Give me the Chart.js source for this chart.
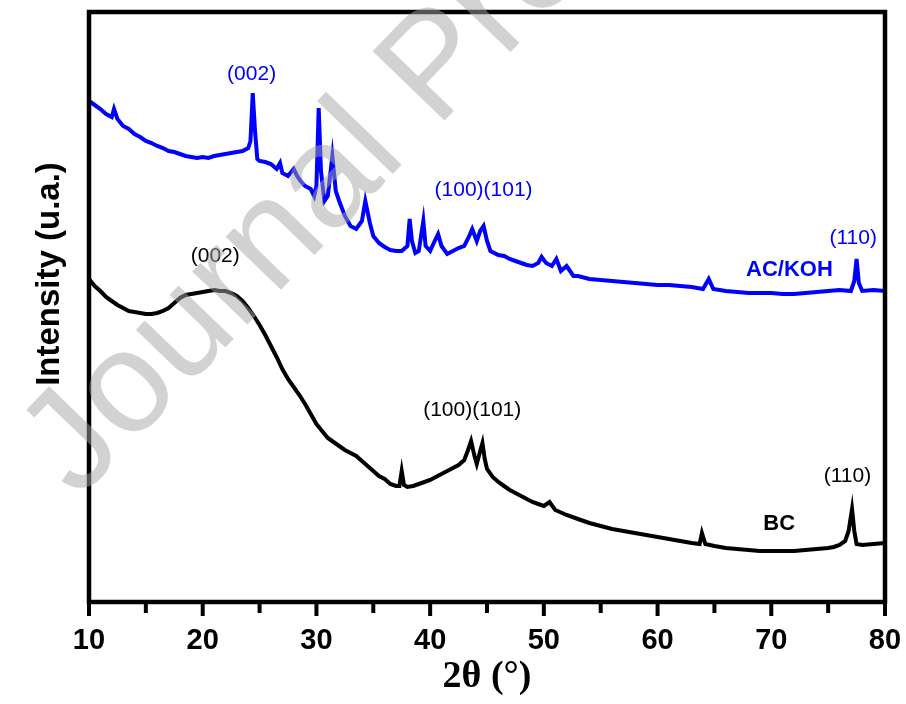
<!DOCTYPE html>
<html>
<head>
<meta charset="utf-8">
<script src="https://cdn.jsdelivr.net/npm/chart.js@4.4.0/dist/chart.umd.min.js"></script>
<style>
  html, body { margin: 0; padding: 0; background: #fff; }
</style>
</head>
<body>
<canvas id="xrd" width="906" height="704"></canvas>
<script>
// 2theta (deg) and intensity (a.u.)
const acKohTheta = [10.0,10.5,11.0,11.5,12.0,12.2,12.5,13.0,13.5,14.0,14.5,15.0,15.5,16.0,16.5,17.0,17.5,18.0,18.5,19.0,19.5,20.0,20.5,21.0,21.5,22.0,22.5,23.0,23.5,24.0,24.2,24.4,24.6,24.8,25.0,25.5,26.0,26.5,26.8,27.0,27.5,28.0,28.3,28.6,29.0,29.5,29.8,30.0,30.2,30.4,30.7,31.0,31.4,31.7,32.0,32.5,33.0,33.5,34.0,34.3,34.7,35.0,35.5,36.0,36.5,37.0,37.5,38.0,38.2,38.4,38.7,39.0,39.4,39.6,40.0,40.4,40.7,41.0,41.5,42.0,42.5,43.0,43.4,43.7,44.1,44.4,44.7,45.0,45.3,46.0,46.5,47.0,47.5,48.0,48.5,49.0,49.5,49.8,50.2,50.7,51.1,51.5,52.0,52.6,53.0,54.0,55.0,56.0,57.0,58.0,59.0,60.0,61.0,62.0,63.0,64.0,64.5,64.9,66.0,67.0,68.0,69.0,70.0,71.0,72.0,73.0,74.0,75.0,76.0,77.0,77.3,77.5,77.7,78.0,79.0,80.0];
const acKohInt = [501,497,493,488,485,493,483,476,473,468,465,461,459,456,454,451,450,448,446,445,444,445,444,446,447,448,449,450,451,454,461,509,471,443,441,440,438,433,439,429,426,433,426,421,416,413,406,416,494,431,401,406,446,411,401,386,376,373,381,401,379,366,359,355,352,351,351,356,383,361,349,351,381,356,351,361,368,356,348,351,354,356,365,373,361,371,376,361,351,347,346,343,341,339,337,336,339,345,339,336,343,331,336,326,326,323,322,321,320,319,318,317,317,316,315,313,323,313,311,310,309,309,309,308,308,309,310,311,312,311,321,343,319,311,312,311];

const bcTheta = [10.0,10.5,11.0,11.5,12.0,12.5,13.0,13.5,14.0,14.5,15.0,15.5,16.0,16.5,17.0,17.5,18.0,18.5,19.0,19.5,20.0,20.5,21.0,21.5,22.0,22.5,23.0,23.5,24.0,24.5,25.0,25.5,26.0,26.5,27.0,27.5,28.0,28.5,29.0,29.5,30.0,30.5,31.0,31.5,32.0,32.5,33.0,33.5,34.0,34.5,35.0,35.5,36.0,36.5,37.0,37.3,37.5,37.7,38.0,38.5,39.0,39.5,40.0,40.5,41.0,41.5,42.0,42.5,43.0,43.3,43.6,43.9,44.1,44.4,44.6,44.8,45.0,45.5,46.0,46.5,47.0,47.5,48.0,48.5,49.0,49.5,50.0,50.5,51.0,52.0,53.0,54.0,55.0,56.0,57.0,58.0,59.0,60.0,61.0,62.0,63.0,63.7,63.9,64.2,65.0,66.0,67.0,68.0,69.0,70.0,71.0,72.0,73.0,74.0,75.0,75.5,76.0,76.5,76.8,77.1,77.3,77.5,78.0,79.0,80.0];
const bcInt = [323,316,311,305,301,297,294,291,290,289,288,288,289,291,294,299,304,307,308,309,310,311,312,311,311,309,306,301,294,286,277,267,256,245,233,223,215,207,198,188,178,171,164,160,156,152,149,146,141,136,131,126,123,118,116,116,131,117,115,116,118,120,122,125,128,131,134,137,142,151,161,146,138,151,159,143,133,125,120,116,112,109,106,103,100,98,96,100,92,87,83,79,76,73,71,69,67,65,63,61,59,58,69,58,56,54,53,52,51,51,51,51,52,53,54,55,57,61,71,93,71,58,57,58,59];

const xTicks = [10, 20, 30, 40, 50, 60, 70, 80];

// peak labels: text, 2theta, intensity level
const peakText  = ['(002)', '(100)(101)', '(110)', 'AC/KOH', '(002)', '(100)(101)', '(110)', 'BC'];
const peakTheta = [24.3, 44.7, 77.2, 71.6, 21.1, 43.7, 76.7, 70.7];
const peakLevel = [528, 412, 364, 332, 346, 192, 126, 78];
const peakColor = ['#0000ff', '#0000ff', '#0000ff', '#0000ff', '#000000', '#000000', '#000000', '#000000'];
const peakBold  = [false, false, false, true, false, false, false, true];

function toPoints(xs, ys) {
    return xs.map((x, i) => ({ x: x, y: ys[i] }))
}

const framePlugin = {
    id: 'frame',
    afterDatasetsDraw(chart) {
        const ctx = chart.ctx
        const a = chart.chartArea
        const xs = chart.scales.x
        ctx.save()
        ctx.strokeStyle = '#000'
        ctx.lineWidth = 4.5
        ctx.strokeRect(a.left, a.top, a.right - a.left, a.bottom - a.top)
        ctx.lineWidth = 4
        for (let v = 10; v <= 80; v += 5) {
            const px = xs.getPixelForValue(v)
            const len = v % 10 === 0 ? 14 : 11
            ctx.beginPath()
            ctx.moveTo(px, a.bottom)
            ctx.lineTo(px, a.bottom + len)
            ctx.stroke()
        }
        ctx.restore()
    }
}

const labelPlugin = {
    id: 'peakLabels',
    afterDatasetsDraw(chart) {
        const ctx = chart.ctx
        const xs = chart.scales.x
        const ys = chart.scales.y
        ctx.save()
        ctx.textAlign = 'center'
        ctx.textBaseline = 'middle'
        for (let i = 0; i < peakText.length; i++) {
            ctx.fillStyle = peakColor[i]
            ctx.font = peakBold[i] ? 'bold 22px "Liberation Sans", Arial, sans-serif' : '21px "Liberation Sans", Arial, sans-serif'
            ctx.fillText(peakText[i], xs.getPixelForValue(peakTheta[i]), ys.getPixelForValue(peakLevel[i]))
        }
        ctx.restore()
    }
}

const yTitlePlugin = {
    id: 'yTitle',
    afterDraw(chart) {
        const ctx = chart.ctx
        ctx.save()
        ctx.translate(50, 274)
        ctx.rotate(-Math.PI / 2)
        ctx.fillStyle = '#000'
        ctx.font = 'bold 33px "Liberation Sans", Arial, sans-serif'
        ctx.textAlign = 'center'
        ctx.textBaseline = 'middle'
        ctx.fillText('Intensity (u.a.)', 0, 0)
        ctx.restore()
    }
}

const watermarkPlugin = {
    id: 'watermark',
    afterDraw(chart) {
        const ctx = chart.ctx
        ctx.save()
        ctx.translate(78, 500)
        ctx.rotate(-46 * Math.PI / 180)
        ctx.fillStyle = 'rgba(166,166,166,0.5)'
        ctx.font = '145px "Liberation Sans", Arial, sans-serif'
        ctx.textBaseline = 'alphabetic'
        ctx.fillText('Journal Pre-proof', 0, 0)
        ctx.restore()
    }
}

const config = {
    type: 'line',
    data: {
        datasets: [{
            label: 'AC/KOH',
            data: toPoints(acKohTheta, acKohInt),
            borderColor: '#0000ff',
            borderWidth: 4,
            pointRadius: 0,
            tension: 0,
            fill: false
        }, {
            label: 'BC',
            data: toPoints(bcTheta, bcInt),
            borderColor: '#000000',
            borderWidth: 4,
            pointRadius: 0,
            tension: 0,
            fill: false
        }]
    },
    options: {
        responsive: false,
        animation: false,
        devicePixelRatio: 1,
        layout: { padding: { left: 89, right: 21, top: 12, bottom: 0 } },
        plugins: {
            legend: { display: false },
            tooltip: { enabled: false }
        },
        scales: {
            x: {
                type: 'linear',
                min: 10,
                max: 80,
                afterFit(scale) {
                    scale.height = 102
                    scale.paddingLeft = 0
                    scale.paddingRight = 0
                },
                afterBuildTicks(scale) { scale.ticks = xTicks.map(v => ({ value: v })) },
                grid: { display: false },
                border: { display: false },
                ticks: {
                    color: '#000',
                    padding: 14,
                    maxRotation: 0,
                    autoSkip: false,
                    font: { family: '"Liberation Sans", Arial, sans-serif', size: 29, weight: 'bold' }
                },
                title: {
                    display: true,
                    text: '2θ (°)',
                    color: '#000',
                    padding: { top: 0, bottom: 4 },
                    font: { family: '"Liberation Serif", "Times New Roman", serif', size: 38, weight: 'bold' }
                }
            },
            y: {
                display: false,
                min: 0,
                max: 590
            }
        }
    },
    plugins: [framePlugin, labelPlugin, yTitlePlugin, watermarkPlugin]
}

const chart = new Chart(document.getElementById('xrd'), config)
</script>
</body>
</html>
